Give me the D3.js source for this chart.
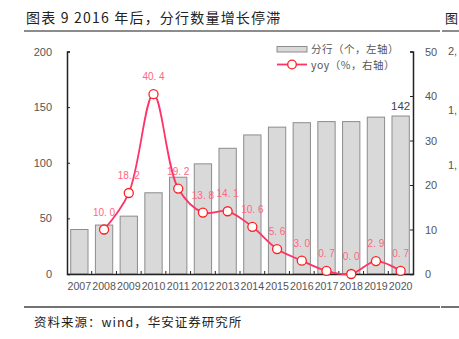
<!DOCTYPE html>
<html><head><meta charset="utf-8">
<script src="https://cdn.jsdelivr.net/npm/d3@7"></script>
<style>body{margin:0;background:#fff}svg{display:block}</style>
</head><body><svg id="c" width="459" height="339"></svg>
<script>
const years = ["2007","2008","2009","2010","2011","2012","2013","2014","2015","2016","2017","2018","2019","2020"];
const branches = [40,44,52,73,87,99,113,125,132,136,137,137,141,142];
const yoy = [null,10.0,18.2,40.4,19.2,13.8,14.1,10.6,5.6,3.0,0.7,0.0,2.9,0.7];
const yoyLabels = ["","10.0","18.2","40.4","19.2","13.8","14.1","10.6","5.6","3.0","0.7","0.0","2.9","0.7"];
const leftTicks = [0,50,100,150,200];
const rightTicks = [0,10,20,30,40,50];

const svg = d3.select("#c");
const font = "'Liberation Sans'";
const cjk = "'Noto Sans CJK SC', sans-serif";
const L = 67, R = 413, T = 51.5, B = 274;

// title
svg.append("text").attr("x",26).attr("y",23).attr("font-family",cjk).attr("font-size",14)
  .attr("letter-spacing",1.2).attr("fill","#222").text("图表 9 2016 年后，分行数量增长停滞");
svg.append("text").attr("x",445).attr("y",23).attr("font-family",cjk).attr("font-size",13)
  .attr("fill","#222").text("图");
svg.append("line").attr("x1",24).attr("x2",440).attr("y1",31).attr("y2",31).attr("stroke","#8c8c8c").attr("stroke-width",2);
svg.append("line").attr("x1",442).attr("x2",459).attr("y1",31).attr("y2",31).attr("stroke","#8c8c8c").attr("stroke-width",2);
[["2,",55],["1,",114],["1,",169]].forEach(([t,y])=>svg.append("text").attr("x",448).attr("y",y)
  .attr("font-family",font).attr("font-size",11).attr("fill","#555").text(t));

// footer
svg.append("line").attr("x1",24).attr("x2",440).attr("y1",307).attr("y2",307).attr("stroke","#444").attr("stroke-width",1.5);
svg.append("line").attr("x1",441).attr("x2",459).attr("y1",307).attr("y2",307).attr("stroke","#444").attr("stroke-width",1.5);
svg.append("text").attr("x",34).attr("y",327).attr("font-family",cjk).attr("font-size",12.5)
  .attr("letter-spacing",1).attr("fill","#222").text("资料来源：wind，华安证券研究所");

const x = d3.scaleBand().domain(years).range([L,R]).paddingInner(0.3).paddingOuter(0.15);
const yL = d3.scaleLinear().domain([0,200]).range([B,T]);
const yR = d3.scaleLinear().domain([0,50]).range([B,T]);

// bars
svg.append("g").selectAll("rect").data(years).join("rect")
  .attr("x",d=>x(d)).attr("width",x.bandwidth())
  .attr("y",(d,i)=>yL(branches[i])).attr("height",(d,i)=>B-yL(branches[i]))
  .attr("fill","#d9d9d9").attr("stroke","#8c8c8c").attr("stroke-width",1);

svg.append("text").attr("x",x("2020")+x.bandwidth()/2).attr("y",yL(142)-6)
  .attr("text-anchor","middle").attr("font-family",font).attr("font-size",11.5).attr("fill","#444").text("142");

// axes
const axL = d3.axisLeft(yL).tickValues(leftTicks).tickSize(-3).tickPadding(15);
const gL = svg.append("g").attr("transform",`translate(${L},0)`).call(axL);
const axR = d3.axisRight(yR).tickValues(rightTicks).tickSize(-3).tickPadding(12);
const gR = svg.append("g").attr("transform",`translate(${R},0)`).call(axR);
const xb = d3.scaleLinear().domain([0,years.length]).range([L,R]);
const axX = d3.axisBottom(x).tickSize(0).tickPadding(8);
const gX = svg.append("g").attr("transform",`translate(0,${B})`).call(axX);
[gL,gR,gX].forEach(g=>{
  g.attr("font-family",font);
  g.select(".domain").attr("stroke","#222").attr("stroke-width",1.5);
  g.selectAll(".tick line").attr("stroke","#222");
  g.selectAll("text").attr("font-family",font).attr("font-size",11).attr("fill","#555");
});
gX.selectAll("text").attr("font-size",10.6);
// category boundary ticks on x axis
svg.append("g").selectAll("line").data(d3.range(1,years.length)).join("line")
  .attr("x1",d=>xb(d)).attr("x2",d=>xb(d)).attr("y1",B).attr("y2",B-3)
  .attr("stroke","#222").attr("stroke-width",1);

// line
const pts = years.map((d,i)=>({x:x(d)+x.bandwidth()/2,v:yoy[i],lab:yoyLabels[i]})).filter(p=>p.v!==null);
const line = d3.line().x(p=>p.x).y(p=>yR(p.v)).curve(d3.curveCatmullRom.alpha(0.5));
svg.append("path").attr("d",line(pts)).attr("fill","none").attr("stroke","#ff3366").attr("stroke-width",1.8);
svg.append("g").selectAll("circle").data(pts).join("circle")
  .attr("cx",p=>p.x).attr("cy",p=>yR(p.v)).attr("r",4.5)
  .attr("fill","#fff").attr("stroke","#ff2020").attr("stroke-width",1.3);
svg.append("g").selectAll("text").data(pts).join("text")
  .attr("x",p=>p.x).attr("y",p=>yR(p.v)-14).attr("text-anchor","middle")
  .attr("font-family",font).attr("font-size",10).attr("fill","#ff6680")
  .text(p=>p.lab.replace(".",". "));

// legend
svg.append("rect").attr("x",277).attr("y",46.5).attr("width",30).attr("height",5.5)
  .attr("fill","#d9d9d9").attr("stroke","#8c8c8c").attr("stroke-width",1);
svg.append("text").attr("x",311).attr("y",53).attr("font-family",cjk).attr("font-size",10.5)
  .attr("letter-spacing",0.5).attr("fill","#555").text("分行（个，左轴）");
svg.append("line").attr("x1",277).attr("x2",307).attr("y1",64.5).attr("y2",64.5).attr("stroke","#ff3366").attr("stroke-width",1.8);
svg.append("circle").attr("cx",292).attr("cy",64.5).attr("r",4.3).attr("fill","#fff").attr("stroke","#ff2020").attr("stroke-width",1.3);
svg.append("text").attr("x",311).attr("y",68.5).attr("font-family",cjk).attr("font-size",10.5)
  .attr("letter-spacing",0.5).attr("fill","#555").text("yoy（%，右轴）");
</script></body></html>
